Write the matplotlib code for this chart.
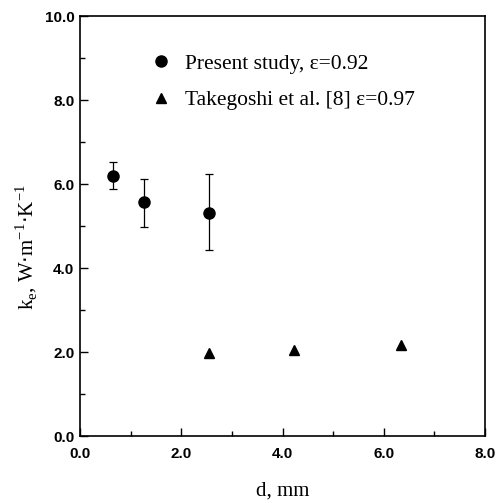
import matplotlib
matplotlib.use("Agg")
import matplotlib.pyplot as plt
from matplotlib.ticker import MultipleLocator, FormatStrFormatter
from matplotlib.lines import Line2D

present_d = [0.65, 1.27, 2.55]
present_k = [6.20, 5.56, 5.32]
present_err_low = [0.33, 0.58, 0.90]
present_err_high = [0.33, 0.57, 0.92]

tak_d = [2.55, 4.23, 6.35]
tak_k = [1.97, 2.04, 2.17]

legend_labels = ["Present study, \u03b5=0.92", "Takegoshi et al. [8] \u03b5=0.97"]

fig = plt.figure(figsize=(4.96, 5.03), dpi=100)
ax = fig.add_axes([80/496, 1-436/503, 405/496, 420/503])

ax.errorbar(present_d, present_k, yerr=[present_err_low, present_err_high],
            fmt='o', color='black', markersize=8, ecolor='black', elinewidth=0.9,
            capsize=3, capthick=0.9)
ax.plot(tak_d, tak_k, '^', color='black', markersize=7, linestyle='none')

ax.set_xlim(0, 8)
ax.set_ylim(0, 10)
ax.xaxis.set_major_locator(MultipleLocator(2))
ax.xaxis.set_minor_locator(MultipleLocator(1))
ax.yaxis.set_major_locator(MultipleLocator(2))
ax.yaxis.set_minor_locator(MultipleLocator(1))
ax.xaxis.set_major_formatter(FormatStrFormatter('%.1f'))
ax.yaxis.set_major_formatter(FormatStrFormatter('%.1f'))
ax.tick_params(which='both', direction='in', width=1, colors='black')
ax.tick_params(which='major', length=6)
ax.tick_params(which='minor', length=3.5)
for lab in ax.get_xticklabels() + ax.get_yticklabels():
    lab.set_family('Liberation Sans')
    lab.set_fontweight('bold')
    lab.set_fontsize(11)
ax.tick_params(axis='x', pad=8)
ax.tick_params(axis='y', pad=4)
for s in ax.spines.values():
    s.set_linewidth(1.2)

ax.set_xlabel('d, mm', family='Liberation Serif', fontsize=15)
ax.xaxis.set_label_coords(0.5, -0.108)
ax.set_ylabel(r'k$_\mathregular{e}$, W$\cdot$m$^\mathregular{-1}$$\cdot$K$^\mathregular{-1}$',
              family='Liberation Serif', fontsize=15)
ax.yaxis.set_label_coords(-0.10, 0.45)

handles = [Line2D([], [], marker='o', color='black', markersize=8, linestyle='none'),
           Line2D([], [], marker='^', color='black', markersize=7, linestyle='none')]
leg = ax.legend(handles, legend_labels, loc='upper left', bbox_to_anchor=(0.12, 0.956),
                frameon=False, prop={'family': 'Liberation Serif', 'size': 15.5},
                handletextpad=0.5, labelspacing=0.75, handlelength=1.2,
                numpoints=1)

fig.savefig('out.png', dpi=100)
